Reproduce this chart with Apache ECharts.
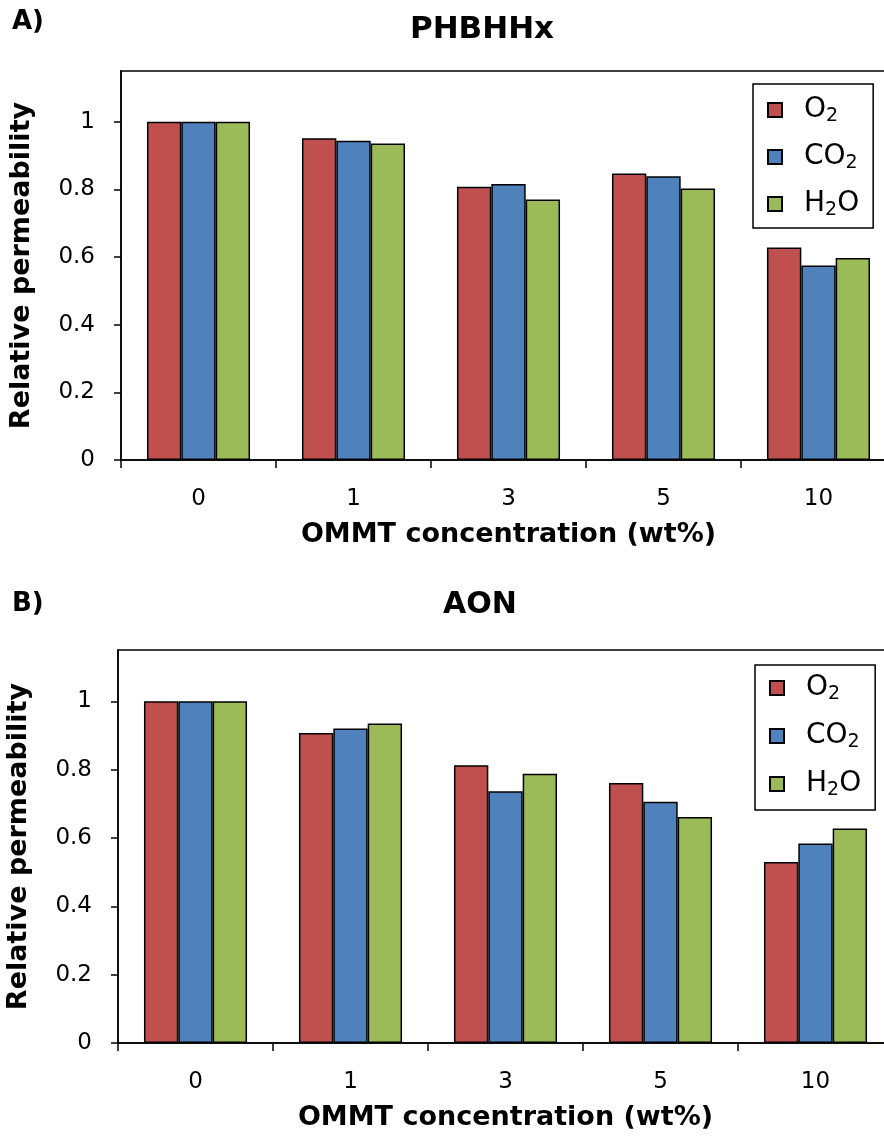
<!DOCTYPE html>
<html>
<head>
<meta charset="utf-8">
<script src="https://cdn.jsdelivr.net/npm/echarts@6/dist/echarts.min.js"></script>
<style>
  html, body { margin: 0; padding: 0; background: #fff; }
  #chart { width: 884px; height: 1137px; }
</style>
</head>
<body>
<div id="chart"></div>
<script>
// ---- data ----
const categories = ['0', '1', '3', '5', '10'];
const gasNames = ['O2', 'CO2', 'H2O'];
const phbhhxO2 = [1.0, 0.951, 0.808, 0.847, 0.628];
const phbhhxCO2 = [1.0, 0.944, 0.816, 0.839, 0.575];
const phbhhxH2O = [1.0, 0.936, 0.770, 0.803, 0.597];
const aonO2 = [1.0, 0.907, 0.813, 0.761, 0.530];
const aonCO2 = [1.0, 0.920, 0.737, 0.706, 0.584];
const aonH2O = [1.0, 0.935, 0.788, 0.661, 0.628];
const yTicks = [0, 0.2, 0.4, 0.6, 0.8, 1];
const titles = ['PHBHHx', 'AON'];
const panelLabels = ['A)', 'B)'];
const xName = 'OMMT concentration (wt%)';
const yName = 'Relative permeability';

const colors = ['#C0504D', '#4F81BD', '#9BBB59'];
const FONT = 'DejaVu Sans';

const richLegend = {
  n: { fontFamily: FONT, fontSize: 28, lineHeight: 32, color: '#000', verticalAlign: 'middle' },
  s: { fontFamily: FONT, fontSize: 19, lineHeight: 12, color: '#000', verticalAlign: 'bottom' }
};
const legendFmt = {
  'O2': '{n|O}{s|2}',
  'CO2': '{n|CO}{s|2}',
  'H2O': '{n|H}{s|2}{n|O}'
};

function yAxis(gridIndex) {
  return {
    type: 'value', gridIndex: gridIndex, min: 0, max: 1.15,
    name: yName, nameLocation: 'middle', nameGap: 86,
    nameTextStyle: { fontFamily: FONT, fontSize: 27, fontWeight: 'bold', color: '#000' },
    axisLine: { show: true, lineStyle: { color: '#000', width: 1.5 } },
    axisTick: { show: true, length: 7, customValues: yTicks, lineStyle: { color: '#000', width: 1.5 } },
    axisLabel: { customValues: yTicks, margin: 26, fontFamily: FONT, fontSize: 23, color: '#000' },
    splitLine: { show: false }
  };
}
function xAxis(gridIndex) {
  return {
    type: 'category', gridIndex: gridIndex, data: categories,
    name: xName, nameLocation: 'middle', nameGap: 61,
    nameTextStyle: { fontFamily: FONT, fontSize: 27, fontWeight: 'bold', color: '#000' },
    axisLine: { show: true, lineStyle: { color: '#000', width: 1.5 } },
    axisTick: { show: true, length: 8, alignWithLabel: false, lineStyle: { color: '#000', width: 1.5 } },
    axisLabel: { margin: 28, fontFamily: FONT, fontSize: 23, color: '#000' }
  };
}
function bar(name, data, idx, gridIdx) {
  return {
    type: 'bar', name: name, data: data, xAxisIndex: gridIdx, yAxisIndex: gridIdx,
    barGap: '0%', barCategoryGap: '33.5%',
    itemStyle: { color: colors[idx], borderColor: '#000', borderWidth: 1.5 },
    silent: true
  };
}
function legend(left, top, padding, gap) {
  return {
    orient: 'vertical', left: left, top: top,
    data: gasNames,
    icon: 'rect', itemWidth: 14, itemHeight: 14, itemGap: gap,
    padding: padding,
    borderColor: '#000', borderWidth: 1.5, backgroundColor: '#fff',
    formatter: function (n) { return legendFmt[n]; },
    textStyle: { rich: richLegend, padding: [0, 0, 0, 17] },
    selectedMode: false
  };
}

const chart = echarts.init(document.getElementById('chart'), null, { renderer: 'canvas' });
chart.setOption({
  backgroundColor: '#fff',
  animation: false,
  grid: [
    { left: 121, top: 71, width: 775, height: 389, outerBoundsMode: 'none', containLabel: false, show: true, borderColor: '#000', borderWidth: 1.5, backgroundColor: 'transparent' },
    { left: 118, top: 650, width: 775, height: 393, outerBoundsMode: 'none', containLabel: false, show: true, borderColor: '#000', borderWidth: 1.5, backgroundColor: 'transparent' }
  ],
  xAxis: [xAxis(0), xAxis(1)],
  yAxis: [yAxis(0), yAxis(1)],
  legend: [legend(753, 84, [12, 14, 8, 14], 17), legend(755, 665, [9, 14, 10, 14], 18)],
  graphic: [
    { type: 'text', x: 482, y: 30, style: { text: titles[0], fontFamily: FONT, fontSize: 31, fontWeight: 'bold', fill: '#000', textAlign: 'center', textVerticalAlign: 'middle' } },
    { type: 'text', x: 480, y: 605, style: { text: titles[1], fontFamily: FONT, fontSize: 30, fontWeight: 'bold', fill: '#000', textAlign: 'center', textVerticalAlign: 'middle' } },
    { type: 'text', x: 12, y: 22, style: { text: panelLabels[0], fontFamily: FONT, fontSize: 26, fontWeight: 'bold', fill: '#000', textAlign: 'left', textVerticalAlign: 'middle' } },
    { type: 'text', x: 12, y: 604, style: { text: panelLabels[1], fontFamily: FONT, fontSize: 26, fontWeight: 'bold', fill: '#000', textAlign: 'left', textVerticalAlign: 'middle' } }
  ],
  series: [
    bar(gasNames[0], phbhhxO2, 0, 0),
    bar(gasNames[1], phbhhxCO2, 1, 0),
    bar(gasNames[2], phbhhxH2O, 2, 0),
    bar(gasNames[0], aonO2, 0, 1),
    bar(gasNames[1], aonCO2, 1, 1),
    bar(gasNames[2], aonH2O, 2, 1)
  ]
});
</script>
</body>
</html>
